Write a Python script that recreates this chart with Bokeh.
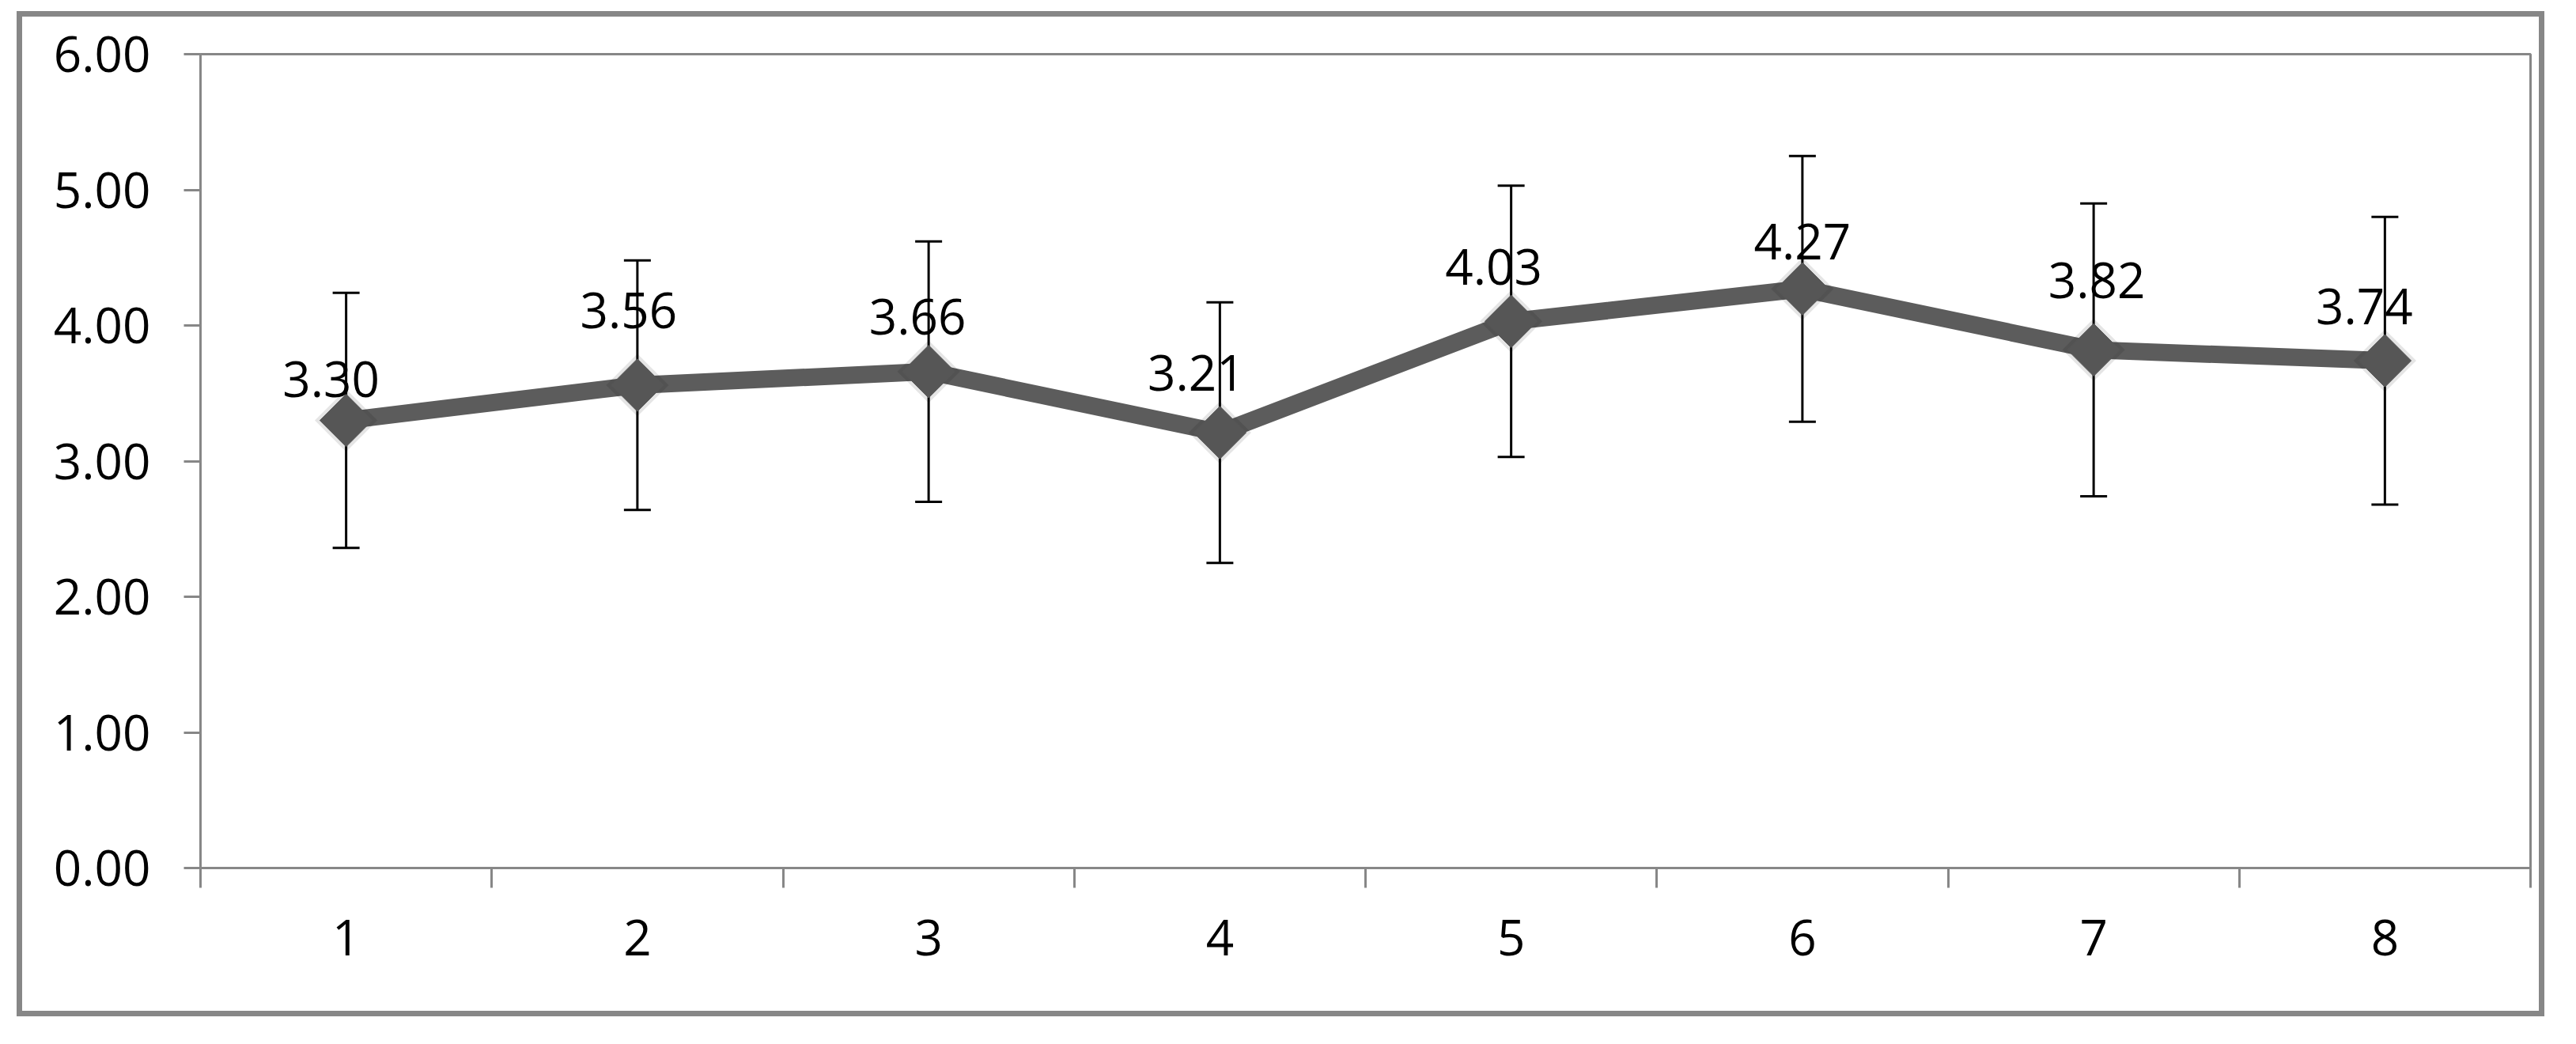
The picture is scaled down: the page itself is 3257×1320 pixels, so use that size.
from bokeh.plotting import figure
from bokeh.models import ColumnDataSource, Whisker, TeeHead, FixedTicker
from bokeh.core.properties import value
from bokeh.embed import file_html
from bokeh.resources import INLINE

# ---- data ----
categories = ["1", "2", "3", "4", "5", "6", "7", "8"]
means = [3.30, 3.56, 3.66, 3.21, 4.03, 4.27, 3.82, 3.74]
errors = [0.94, 0.92, 0.96, 0.96, 1.00, 0.98, 1.08, 1.06]
y_ticks = [0, 1, 2, 3, 4, 5, 6]
y_tick_labels = ["0.00", "1.00", "2.00", "3.00", "4.00", "5.00", "6.00"]

# label nudges (screen px) as placed in the original chart
label_dx = [-19, -11, -14, -30, -22, 0, 4, -26]
label_dy = [-52, -94, -69, -75, -69, -60, -88, -69]

xs = list(range(1, len(categories) + 1))
src = ColumnDataSource(dict(
    x=xs,
    y=means,
    upper=[m + e for m, e in zip(means, errors)],
    lower=[m - e for m, e in zip(means, errors)],
    label=["%.2f" % m for m in means],
    dx=label_dx,
    dy=label_dy,
))

GRAY = "#878787"
FONT = "Open Sans"

p = figure(width=3182, height=1257, x_range=(0.5, len(categories) + 0.5), y_range=(0, 6),
           output_backend="svg", toolbar_location=None,
           min_border_left=225, min_border_right=25, min_border_top=47, min_border_bottom=195)
p.styles = {"border": "7px solid " + GRAY, "box-sizing": "content-box",
            "transform": "translate(21px, 14px)"}
p.background_fill_color = "white"
p.border_fill_color = "white"
p.outline_line_color = GRAY
p.outline_line_width = 3
p.xgrid.visible = False
p.ygrid.visible = False

# y axis
ya = p.yaxis[0]
ya.ticker = FixedTicker(ticks=y_ticks)
ya.major_label_overrides = {t: l for t, l in zip(y_ticks, y_tick_labels)}
ya.axis_line_color = GRAY
ya.axis_line_width = 3
ya.major_tick_line_color = GRAY
ya.major_tick_line_width = 3
ya.major_tick_out = 21
ya.major_tick_in = 0
ya.minor_tick_line_color = None
ya.major_label_text_font = FONT
ya.major_label_text_font_size = "62px"
ya.major_label_text_color = "black"
ya.major_label_standoff = 42

# x axis
xa = p.xaxis[0]
xa.ticker = FixedTicker(ticks=xs, minor_ticks=[x - 0.5 for x in xs] + [xs[-1] + 0.5])
xa.major_label_overrides = {x: c for x, c in zip(xs, categories)}
xa.axis_line_color = GRAY
xa.axis_line_width = 3
xa.major_tick_out = 0
xa.major_tick_in = 0
xa.major_tick_line_color = None
xa.minor_tick_line_color = GRAY
xa.minor_tick_line_width = 3
xa.minor_tick_out = 25
xa.minor_tick_in = 0
xa.major_label_text_font = FONT
xa.major_label_text_font_size = "62px"
xa.major_label_text_color = "black"
xa.major_label_standoff = 40

# error bars
whisk = Whisker(base="x", upper="upper", lower="lower", source=src,
                line_color="black", line_width=3, level="underlay",
                upper_head=TeeHead(size=34, line_color="black", line_width=3),
                lower_head=TeeHead(size=34, line_color="black", line_width=3))
p.add_layout(whisk)

# line and markers (with a soft shadow halo)
p.line("x", "y", source=src, line_color="#5c5c5c", line_width=22, line_join="miter")
p.scatter("x", "y", source=src, marker="square", size=56, angle=0.785398,
          fill_color="black", fill_alpha=0.10, line_color=None)
p.scatter("x", "y", source=src, marker="square", size=47, angle=0.785398,
          fill_color="#565656", line_color="#565656")

# data labels
p.text("x", "y", text="label", source=src, x_offset="dx", y_offset="dy",
       text_align="center", text_baseline="alphabetic",
       text_font=value(FONT), text_font_size="62px", text_color="black")

open("out.html", "w").write(file_html(p, INLINE))
